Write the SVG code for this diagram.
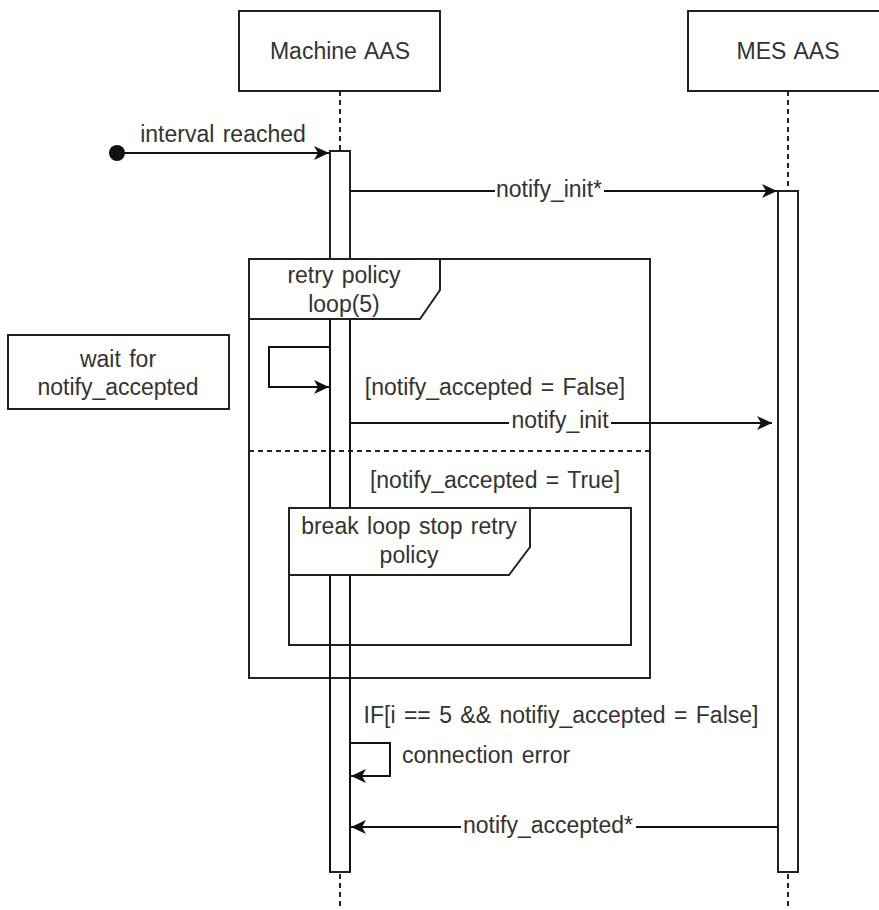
<svg xmlns="http://www.w3.org/2000/svg" width="879" height="910" viewBox="0 0 879 910">
<defs>
<style>
text{font-family:"Liberation Sans",Arial,sans-serif;font-size:23px;word-spacing:2px;fill:#333;}
.m{text-anchor:middle;}
.box{fill:#fff;stroke:#222;stroke-width:2;}
.frame{fill:none;stroke:#222;stroke-width:2;}
.life{stroke:#222;stroke-width:2;stroke-dasharray:5 4;fill:none;}
.msg{stroke:#111;stroke-width:2;fill:none;}
.lbl{fill:#fff;}
</style>
<marker id="arr" markerUnits="userSpaceOnUse" markerWidth="16" markerHeight="14" refX="15" refY="7" orient="auto">
<path d="M0,0 L15,7 L0,14 L4,7 Z" fill="#111"/>
</marker>
</defs>
<rect width="879" height="910" fill="#fff"/>
<g id="lifelines">
<line class="life" x1="340" y1="91" x2="340" y2="910"/>
<line class="life" x1="788" y1="91" x2="788" y2="910"/>
</g>
<g id="machine-aas">
<rect class="box" x="239" y="11" width="201" height="80"/>
<text class="m" x="340" y="59">Machine AAS</text>
</g>
<g id="mes-aas">
<rect class="box" x="688" y="11" width="200" height="80"/>
<text class="m" x="788" y="59">MES AAS</text>
</g>
<g id="machine-activation">
<rect class="box" x="330" y="151" width="20" height="721"/>
</g>
<g id="mes-activation">
<rect class="box" x="778" y="191" width="20" height="681"/>
</g>
<g id="retry-loop">
<rect class="frame" x="249" y="259" width="401" height="419"/>
<path class="box" d="M249,259 H440 V290 L420,319 H249 Z"/>
<text class="m" x="344" y="283">retry policy</text>
<text class="m" x="344" y="312">loop(5)</text>
<line class="life" x1="249" y1="451" x2="650" y2="451"/>
<text class="m" x="495" y="395">[notify_accepted = False]</text>
<text class="m" x="495" y="488">[notify_accepted = True]</text>
</g>
<g id="break-frame">
<rect class="frame" x="289" y="508" width="342" height="137"/>
<path class="box" d="M289,508 H530 V547 L509,575 H289 Z"/>
<text class="m" x="409" y="534">break loop stop retry</text>
<text class="m" x="409" y="563">policy</text>
</g>
<g id="bars-overlay">
<line class="msg" x1="330" y1="319" x2="330" y2="508"/>
<line class="msg" x1="350" y1="319" x2="350" y2="508"/>
<line class="msg" x1="330" y1="575" x2="330" y2="872"/>
<line class="msg" x1="350" y1="575" x2="350" y2="872"/>
</g>
<g id="wait-note">
<rect class="box" x="8" y="335" width="221" height="74"/>
<text class="m" x="118" y="367">wait for</text>
<text class="m" x="118" y="395">notify_accepted</text>
</g>
<g id="connectors">
<circle cx="117" cy="153" r="8" fill="#111"/>
<line class="msg" x1="117" y1="153" x2="329" y2="153" marker-end="url(#arr)"/>
<text class="m" x="223" y="142">interval reached</text>
<line class="msg" x1="350" y1="191" x2="777" y2="191" marker-end="url(#arr)"/>
<rect class="lbl" x="495" y="180" width="109" height="22"/>
<text class="m" x="549" y="197">notify_init*</text>
<path class="msg" d="M329,347 H269 V387 H329" marker-end="url(#arr)"/>
<line class="msg" x1="350" y1="423" x2="772" y2="423" marker-end="url(#arr)"/>
<rect class="lbl" x="509" y="412" width="102" height="22"/>
<text class="m" x="560" y="428">notify_init</text>
<text class="m" x="561" y="723">IF[i == 5 &amp;&amp; notifiy_accepted = False]</text>
<path class="msg" d="M350,743 H390 V776 H351" marker-end="url(#arr)"/>
<text x="402" y="763">connection error</text>
<line class="msg" x1="778" y1="827" x2="351" y2="827" marker-end="url(#arr)"/>
<rect class="lbl" x="461" y="816" width="175" height="22"/>
<text class="m" x="548" y="833">notify_accepted*</text>
</g>
</svg>
